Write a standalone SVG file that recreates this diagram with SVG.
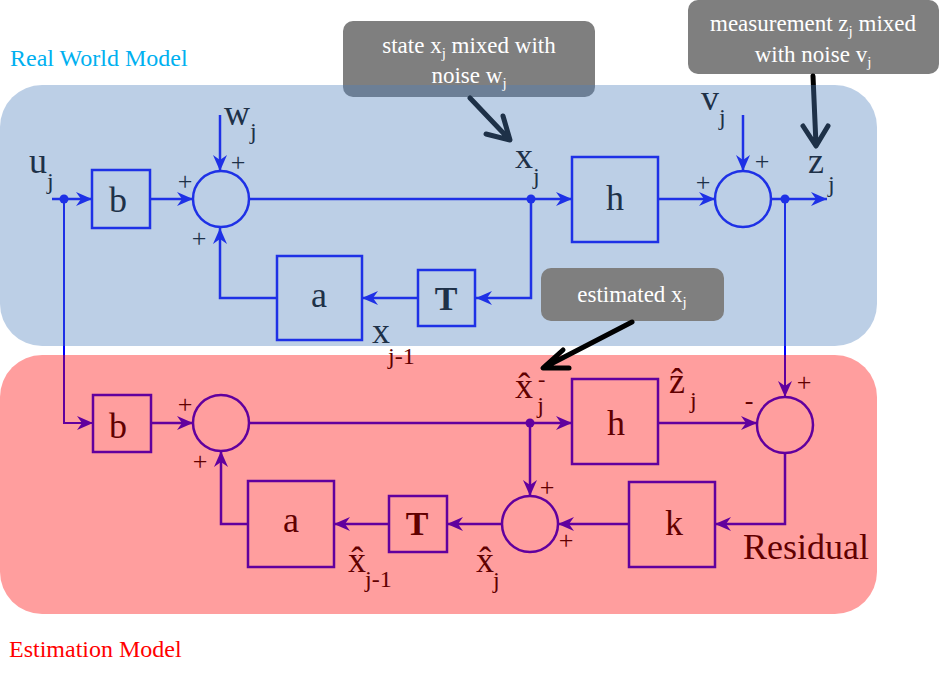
<svg xmlns="http://www.w3.org/2000/svg" width="940" height="680" viewBox="0 0 940 680">
<style>
.c{fill:none;stroke:#0000ff;stroke-width:2.5}
.c2{fill:none;stroke:#0000ff;stroke-width:2}
.dot{fill:#0000ff}
.ca{fill:none;stroke:#000;stroke-width:5;stroke-linecap:round;stroke-linejoin:round}
.nb{fill:none;stroke:#1e31e6;stroke-width:2.5}
.nr{fill:none;stroke:#61009e;stroke-width:2.5}
text{font-family:"Liberation Serif","Times New Roman",serif}
.tb{fill:#1e3148}
.tr{fill:#610000}
.big{font-size:36px}
.sub{font-size:24px}
.sup{font-size:22px}
.sg{font-size:26px;text-anchor:middle}
.box{font-size:36px;text-anchor:middle}
.bold{font-size:34px;font-weight:bold;text-anchor:middle}
.callbox{fill:#7f7f7f}
.ct{fill:#ffffff;font-size:23px;text-anchor:middle}
.cs{font-size:15px}
</style>
<defs>
<marker id="ah" markerUnits="userSpaceOnUse" markerWidth="16" markerHeight="14" refX="16" refY="7" orient="auto">
<path d="M0,0 L16,7 L0,14 L5,7 Z" fill="#0000ff"/>
</marker>
</defs>

<!-- callout boxes that sit under the translucent panel -->
<rect class="callbox" x="343" y="21" width="252" height="76" rx="10"/>
<rect class="callbox" x="688" y="0" width="251" height="74" rx="10"/>

<g id="connectors">
<!-- real world model -->
<path class="c" d="M52,199 L92,199" marker-end="url(#ah)"/>
<path class="c" d="M150,199 L193,199" marker-end="url(#ah)"/>
<path class="c" d="M220,115 L220,171" marker-end="url(#ah)"/>
<path class="c" d="M249,199 L572,199" marker-end="url(#ah)"/>
<path class="c" d="M531,199 L531,298 L476,298" marker-end="url(#ah)"/>
<path class="c" d="M418,298 L362,298" marker-end="url(#ah)"/>
<path class="c" d="M277,298 L220,298 L220,228" marker-end="url(#ah)"/>
<path class="c" d="M658,199 L715,199" marker-end="url(#ah)"/>
<path class="c" d="M743,115 L743,171" marker-end="url(#ah)"/>
<path class="c" d="M771,199 L827,199" marker-end="url(#ah)"/>
<path class="c2" d="M785,199 L785,397" marker-end="url(#ah)"/>
<path class="c2" d="M64,199 L64,423 L93,423" marker-end="url(#ah)"/>
<circle class="dot" cx="64" cy="199" r="4.5"/>
<circle class="dot" cx="531" cy="199" r="4.5"/>
<circle class="dot" cx="785" cy="199" r="4.5"/>
<!-- estimation model -->
<path class="c" d="M151,423 L193,423" marker-end="url(#ah)"/>
<path class="c" d="M249,423 L572,423" marker-end="url(#ah)"/>
<path class="c" d="M530,423 L530,496" marker-end="url(#ah)"/>
<path class="c" d="M658,423 L757,423" marker-end="url(#ah)"/>
<path class="c" d="M785,453 L785,524 L715,524" marker-end="url(#ah)"/>
<path class="c" d="M629,524 L558,524" marker-end="url(#ah)"/>
<path class="c" d="M502,524 L447,524" marker-end="url(#ah)"/>
<path class="c" d="M389,524 L334,524" marker-end="url(#ah)"/>
<path class="c" d="M248,524 L221,524 L221,451" marker-end="url(#ah)"/>
<circle class="dot" cx="530" cy="423" r="4.5"/>
<!-- callout pointers -->
<path class="ca" d="M470,98 L509,139 M486,134 L510,140 L503,116"/>
<path class="ca" d="M813,76 L816,145 M803,126 L816,146 L828,126"/>
</g>

<!-- panels -->
<rect id="panel-real" x="0" y="85" width="877" height="261" rx="42" fill="#4f81bd" fill-opacity="0.38"/>
<rect id="panel-est" x="0" y="355" width="877" height="259" rx="42" fill="#ff0000" fill-opacity="0.38"/>

<text x="10" y="66" font-size="24" fill="#00b0f0">Real World Model</text>
<text x="9" y="657" font-size="24" fill="#ff0000">Estimation Model</text>

<!-- callout texts -->
<g id="callout-state">
<text class="ct" x="469" y="53">state x<tspan class="cs" dy="5">j</tspan><tspan dy="-5"> mixed with</tspan></text>
<text class="ct" x="469" y="83">noise w<tspan class="cs" dy="5">j</tspan></text>
</g>
<g id="callout-measurement">
<text class="ct" x="813" y="31">measurement z<tspan class="cs" dy="5">j</tspan><tspan dy="-5"> mixed</tspan></text>
<text class="ct" x="813" y="62">with noise v<tspan class="cs" dy="5">j</tspan></text>
</g>

<!-- real world model nodes -->
<g id="b-real"><rect class="nb" x="92" y="170" width="58" height="58"/><text class="tb box" x="118" y="212">b</text></g>
<g id="sum-real-state"><circle class="nb" cx="221" cy="199" r="28"/>
<text class="tb sg" x="238" y="171">+</text><text class="tb sg" x="185" y="190">+</text><text class="tb sg" x="199" y="247">+</text></g>
<g id="a-real"><rect class="nb" x="277" y="256" width="85" height="84"/><text class="tb box" x="319" y="307">a</text></g>
<g id="T-real"><rect class="nb" x="418" y="270" width="57" height="56"/><text class="tb bold" x="446" y="310">T</text></g>
<g id="h-real"><rect class="nb" x="572" y="157" width="86" height="85"/><text class="tb box" x="615" y="210">h</text></g>
<g id="sum-real-meas"><circle class="nb" cx="743" cy="199" r="28"/>
<text class="tb sg" x="762" y="170">+</text><text class="tb sg" x="703" y="191">+</text></g>

<g id="labels-real">
<text class="tb big" x="29" y="173">u<tspan class="sub" dy="16">j</tspan></text>
<text class="tb big" x="224" y="125">w<tspan class="sub" dy="14">j</tspan></text>
<text class="tb big" x="515" y="168">x<tspan class="sub" dy="16">j</tspan></text>
<text class="tb big" x="372" y="343">x<tspan class="sub tr" dx="-2" dy="21">j-1</tspan></text>
<text class="tb big" x="701" y="110">v<tspan class="sub" dy="15">j</tspan></text>
<text class="tb big" x="808" y="173">z<tspan class="sub" dx="4" dy="19">j</tspan></text>
</g>

<!-- estimation model nodes -->
<g id="b-est"><rect class="nr" x="93" y="395" width="58" height="57"/><text class="tr box" x="118" y="438">b</text></g>
<g id="sum-est-pred"><circle class="nr" cx="221" cy="423" r="28"/>
<text class="tr sg" x="185" y="413">+</text><text class="tr sg" x="200" y="470">+</text></g>
<g id="h-est"><rect class="nr" x="572" y="379" width="86" height="85"/><text class="tr box" x="616" y="435">h</text></g>
<g id="sum-residual"><circle class="nr" cx="785" cy="425" r="28"/>
<text class="tr sg" x="804" y="391">+</text><text class="tr sg" x="749" y="409">-</text></g>
<g id="k-est"><rect class="nr" x="629" y="482" width="86" height="85"/><text class="tr box" x="674" y="535">k</text></g>
<g id="sum-correct"><circle class="nr" cx="530" cy="524" r="28"/>
<text class="tr sg" x="547" y="496">+</text><text class="tr sg" x="566" y="549">+</text></g>
<g id="T-est"><rect class="nr" x="389" y="496" width="58" height="56"/><text class="tr bold" x="417" y="535">T</text></g>
<g id="a-est"><rect class="nr" x="248" y="481" width="86" height="86"/><text class="tr box" x="291" y="532">a</text></g>

<g id="labels-est">
<text class="tr big" x="515" y="398">x̂<tspan class="sup" dx="5" dy="-12">-</tspan><tspan class="sub" dx="-8" dy="27">j</tspan></text>
<text class="tr big" x="669" y="393">ẑ<tspan class="sub" dx="5" dy="15">j</tspan></text>
<text class="tr big" x="476" y="572">x̂<tspan class="sub" dx="-1" dy="16">j</tspan></text>
<text class="tr big" x="348" y="572">x̂<tspan class="sub" dx="-1" dy="15">j-1</tspan></text>
<text class="tr" font-size="36" x="743" y="559">Residual</text>
</g>

<!-- callout on top -->
<g id="callout-estimated">
<rect class="callbox" x="541" y="268" width="183" height="53" rx="10"/>
<text class="ct" x="632" y="302">estimated x<tspan class="cs" dy="5">j</tspan></text>
<path class="ca" d="M632,322 L545,367 M563,350 L543,368 L569,368"/>
</g>
</svg>
